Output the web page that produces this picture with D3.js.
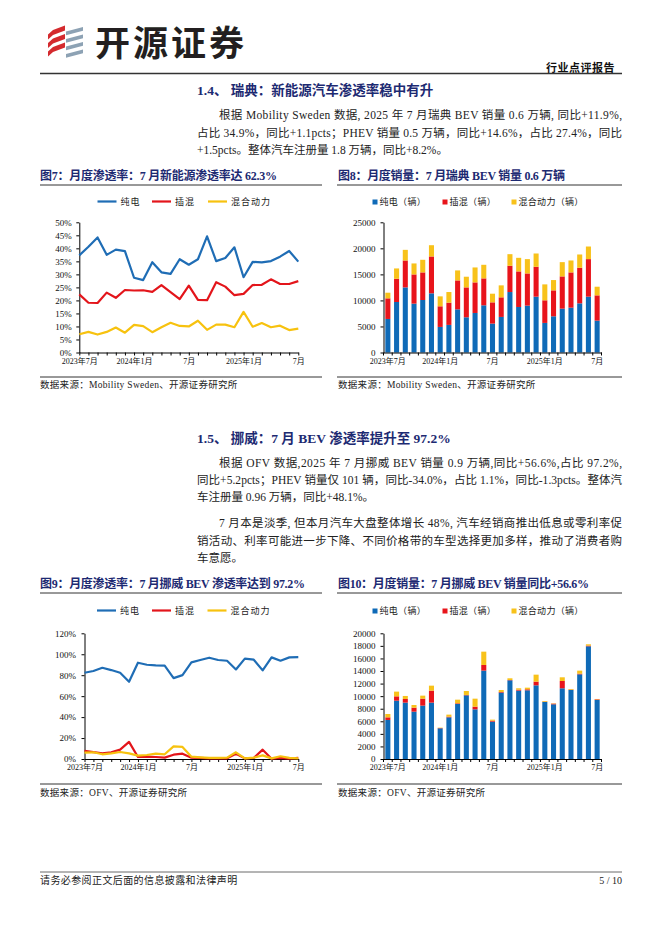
<!DOCTYPE html>
<html><head><meta charset="utf-8">
<script src="https://cdn.jsdelivr.net/npm/d3@7"></script>
<style>body{margin:0;background:#fff}svg{display:block}</style>
</head><body>
<svg id="page" width="662" height="936"></svg>
<script>
// ---------- DATA ----------
const months = ["2023-07","2023-08","2023-09","2023-10","2023-11","2023-12","2024-01","2024-02","2024-03","2024-04","2024-05","2024-06","2024-07","2024-08","2024-09","2024-10","2024-11","2024-12","2025-01","2025-02","2025-03","2025-04","2025-05","2025-06","2025-07"];
const xLabelMonths = ["2023-07","2024-01","2024-07","2025-01","2025-07"];
const xLabelTexts = ["2023年7月","2024年1月","7月","2025年1月","7月"];
const seriesNames = ["纯电","插混","混合动力"];
const barLegendNames = ["纯电（辆）","插混（辆）","混合动力（辆）"];

// Sweden share (%)
const seBEVShare  = [37.3,40.6,44.2,37.5,39.5,38.9,28.7,27.8,34.7,30.8,30.2,35.8,33.7,35.8,44.6,35.1,36.3,40.4,28.9,34.8,34.6,35.1,36.8,39.0,34.9];
const sePHEVShare = [22.3,19.1,19.0,23.0,21.0,24.0,23.8,23.9,23.3,25.9,23.2,20.5,25.7,20.2,20.1,27.0,25.3,22.0,22.5,25.9,26.0,28.1,26.3,26.3,27.4];
const seHEVShare  = [7.0,7.9,6.9,7.9,9.6,7.6,10.6,10.1,7.8,9.7,11.4,10.2,10.0,12.2,8.7,10.7,10.7,9.7,15.6,9.9,11.3,9.7,10.3,8.6,9.2];
// Sweden sales (vehicles)
const seBEV  = [6440,9700,12500,9380,10080,11360,4910,5300,8290,6760,7590,9060,5550,6830,11610,8740,9000,10720,5680,6950,8420,8610,9440,10720,6120];
const sePHEV = [3960,4460,5170,5610,5300,7080,3960,4270,5550,5740,5870,5170,4080,3760,5040,6830,6180,5740,4340,4980,6190,6770,6830,7210,4850];
const seHEV  = [1080,1980,2040,2110,2420,2160,1910,2040,1920,2050,2870,2610,1660,2300,2230,2610,2750,2550,3060,1980,2740,2290,2550,2420,1660];
// Norway share (%)
const noBEVShare  = [82.3,84.0,87.1,84.9,82.3,73.7,91.9,90.0,89.4,89.1,77.2,80.1,92.2,94.5,96.7,94.5,93.8,85.5,95.8,94.8,84.6,97.0,93.8,97.0,97.2];
const noPHEVShare = [7.7,6.5,5.5,6.4,8.9,16.3,1.9,2.2,1.9,1.3,4.1,5.1,1.3,1.0,0.6,0.6,0.6,5.1,0.6,1.0,8.9,0.3,1.0,0.3,1.1];
const noHEVShare  = [6.1,6.4,4.5,5.4,6.7,5.4,3.2,3.8,5.1,4.5,12.1,11.5,2.2,1.6,1.0,1.0,1.3,6.4,0.6,1.3,3.5,0.6,2.6,1.0,0.6];
// Norway sales (vehicles)
const noBEV  = [6210,9280,8970,7530,8490,8970,4880,6630,8750,10130,7900,14060,5940,10560,12520,10880,10930,11720,9070,8700,11250,10980,13470,17930,9390];
const noPHEV = [420,690,580,640,1110,1910,50,110,110,60,430,900,160,100,50,150,160,590,50,110,1160,50,110,110,101];
const noHEV  = [530,750,480,420,480,790,60,320,580,630,1270,2120,160,320,270,220,260,1110,110,50,590,110,480,210,60];

const shareTicks1 = [0,5,10,15,20,25,30,35,40,45,50];
const shareTicks2 = [0,20,40,60,80,100,120];
const salesTicks1 = [0,5000,10000,15000,20000,25000];
const salesTicks2 = [0,2000,4000,6000,8000,10000,12000,14000,16000,18000,20000];

// ---------- STYLE ----------
const colors = ["#1f6db5","#e3151b","#f7c20f"];
const barColors = ["#0f6ab7","#e8141b","#f8c21a"];
const navy = "#1d2a72";
const SERIF = "'Liberation Serif','Noto Sans CJK SC',serif";
const svg = d3.select("#page");
svg.append("rect").attr("width",662).attr("height",936).attr("fill","#fff");

function text(x,y,s,o={}) {
  const t = svg.append("text").attr("x",x).attr("y",y).text(s)
    .attr("font-family",o.family||SERIF).attr("font-size",o.size||11.5)
    .attr("fill",o.fill||"#222").attr("dominant-baseline","central");
  if (o.bold) t.attr("font-weight","bold");
  if (o.anchor) t.attr("text-anchor",o.anchor);
  if (o.ls) t.attr("letter-spacing",o.ls);
  if (o.len) t.attr("textLength",o.len).attr("lengthAdjust","spacing");
  return t;
}
function hline(x0,x1,y,w,c){svg.append("line").attr("x1",x0).attr("x2",x1).attr("y1",y).attr("y2",y).attr("stroke",c||"#222").attr("stroke-width",w||1);}

// ---------- HEADER ----------
const logo = svg.append("g");
[[48,30],[48,38.5],[48,47]].forEach(([x,y])=>{
  logo.append("path").attr("d",`M${x+5},${y} L${x+17},${y-4.5} L${x+17},${y+0.5} L${x+5},${y+5} Z`).attr("fill","#d42a2e");
  logo.append("path").attr("d",`M${x},${y+4.5} L${x+5},${y} L${x+5},${y+5} L${x},${y+9.5} Z`).attr("fill","#d42a2e");
});
[[66,27],[66,34.5],[66,42],[66,49.5]].forEach(([x,y])=>{
  logo.append("path").attr("d",`M${x},${y+4.5} L${x+17},${y} L${x+17},${y+3.8} L${x},${y+8.3} Z`).attr("fill","#8da2b4");
});
text(95,40,"开源证券",{family:"'Noto Sans CJK SC',sans-serif",size:35,bold:true,fill:"#231f20",ls:3});
text(615,68,"行业点评报告",{size:11,bold:true,anchor:"end",fill:"#111",ls:0.5});
hline(40,622,73.5,1.5,"#333");

// ---------- SECTION 1.4 ----------
text(197,90,"1.4、 瑞典：新能源汽车渗透率稳中有升",{size:13.5,bold:true,fill:navy});
text(219,115,"根据 Mobility Sweden 数据, 2025 年 7 月瑞典 BEV 销量 0.6 万辆, 同比+11.9%,",{len:622-219});
text(197,132.5,"占比 34.9%，同比+1.1pcts；PHEV 销量 0.5 万辆，同比+14.6%，占比 27.4%，同比",{len:622-197});
text(197,150,"+1.5pcts。整体汽车注册量 1.8 万辆，同比+8.2%。");

text(40,176,"图7：月度渗透率：7 月新能源渗透率达 62.3%",{size:12,bold:true,fill:navy,len:237});
text(338,176,"图8：月度销量：7 月瑞典 BEV 销量 0.6 万辆",{size:12,bold:true,fill:navy,len:227});
hline(40,322,185,1,"#333"); hline(337,622,185,1,"#333");

// ---------- SECTION 1.5 ----------
text(197,438,"1.5、 挪威：7 月 BEV 渗透率提升至 97.2%",{size:13.5,bold:true,fill:navy});
text(219,463,"根据 OFV 数据,2025 年 7 月挪威 BEV 销量 0.9 万辆,同比+56.6%,占比 97.2%,",{len:622-219});
text(197,480,"同比+5.2pcts；PHEV 销量仅 101 辆，同比-34.0%，占比 1.1%，同比-1.3pcts。整体汽",{len:622-197});
text(197,497,"车注册量 0.96 万辆，同比+48.1%。");
text(219,523,"7 月本是淡季, 但本月汽车大盘整体增长 48%, 汽车经销商推出低息或零利率促",{len:622-219});
text(197,540.5,"销活动、利率可能进一步下降、不同价格带的车型选择更加多样，推动了消费者购",{len:622-197});
text(197,558,"车意愿。");

text(40,584,"图9：月度渗透率：7 月挪威 BEV 渗透率达到 97.2%",{size:12,bold:true,fill:navy,len:265});
text(338,584,"图10：月度销量：7 月挪威 BEV 销量同比+56.6%",{size:12,bold:true,fill:navy,len:251});
hline(40,322,593,1,"#333"); hline(337,622,593,1,"#333");

// ---------- CHART HELPERS ----------
const labelMap = new Map(xLabelMonths.map((m,i)=>[m,xLabelTexts[i]]));

function styleAxis(g){
  g.attr("font-family",SERIF).attr("font-size",9);
  g.selectAll("path,line").attr("stroke","#000").attr("stroke-width",1);
  g.selectAll("text").attr("fill","#111");
}

function lineChart(cfg){
  const x = d3.scalePoint().domain(months).range([cfg.x0,cfg.x1]);
  const y = d3.scaleLinear().domain([0,cfg.max]).range([cfg.yBot,cfg.yTop]);
  const g = svg.append("g");
  g.append("g").attr("transform",`translate(${cfg.x0},0)`)
    .call(d3.axisLeft(y).tickValues(cfg.ticks).tickSize(3).tickSizeOuter(0).tickPadding(cfg.pad).tickFormat(d=>d+"%"))
    .call(styleAxis);
  const xa = g.append("g").attr("transform",`translate(0,${cfg.yBot})`)
    .call(d3.axisBottom(x).tickSize(3).tickSizeOuter(0).tickPadding(2.5).tickFormat(d=>labelMap.get(d)||""))
    .call(styleAxis);
  xa.selectAll("text").attr("font-size",8);
  const line = d3.line().x((d,i)=>x(months[i])).y(d=>y(d));
  cfg.series.forEach((s,k)=>{
    g.append("path").datum(s).attr("d",line).attr("fill","none")
      .attr("stroke",colors[k]).attr("stroke-width",2.2).attr("stroke-linejoin","round");
  });
  cfg.legend.forEach((lx,k)=>{
    g.append("line").attr("x1",lx).attr("x2",lx+19).attr("y1",cfg.legendY).attr("y2",cfg.legendY)
      .attr("stroke",colors[k]).attr("stroke-width",2.2);
    g.append("text").attr("x",lx+23).attr("y",cfg.legendY).attr("dominant-baseline","central")
      .attr("font-family",SERIF).attr("font-size",9).attr("letter-spacing",1).attr("fill","#222").text(seriesNames[k]);
  });
}

function barChart(cfg){
  const x = d3.scaleBand().domain(months).range([cfg.x0,cfg.x1]).paddingInner(0.42).paddingOuter(0.21);
  const y = d3.scaleLinear().domain([0,cfg.max]).range([cfg.yBot,cfg.yTop]);
  const g = svg.append("g");
  const rows = months.map((m,i)=>({m, a:cfg.series[0][i], b:cfg.series[1][i], c:cfg.series[2][i]}));
  const stack = d3.stack().keys(["a","b","c"])(rows);
  stack.forEach((layer,k)=>{
    g.append("g").selectAll("rect").data(layer).join("rect")
      .attr("x",d=>x(d.data.m)).attr("width",x.bandwidth())
      .attr("y",d=>y(d[1])).attr("height",d=>y(d[0])-y(d[1]))
      .attr("fill",barColors[k]);
  });
  g.append("g").attr("transform",`translate(${cfg.x0},0)`)
    .call(d3.axisLeft(y).tickValues(cfg.ticks).tickSize(3).tickSizeOuter(0).tickPadding(cfg.pad).tickFormat(d=>d))
    .call(styleAxis);
  const xa = g.append("g").attr("transform",`translate(0,${cfg.yBot})`)
    .call(d3.axisBottom(x).tickSize(0).tickSizeOuter(0).tickPadding(5.5).tickFormat(d=>labelMap.get(d)||""))
    .call(styleAxis);
  xa.selectAll("text").attr("font-size",8);
  const bounds = d3.range(months.length+1).map(i=>cfg.x0 + i*x.step());
  g.append("g").selectAll("line").data(bounds).join("line")
    .attr("x1",d=>d).attr("x2",d=>d).attr("y1",cfg.yBot).attr("y2",cfg.yBot+3)
    .attr("stroke","#000").attr("stroke-width",1);
  cfg.legend.forEach((lx,k)=>{
    g.append("rect").attr("x",lx).attr("y",cfg.legendY-2.5).attr("width",5).attr("height",5).attr("fill",barColors[k]);
    g.append("text").attr("x",lx+7).attr("y",cfg.legendY).attr("dominant-baseline","central")
      .attr("font-family",SERIF).attr("font-size",9).attr("letter-spacing",0.3).attr("fill","#222").text(barLegendNames[k]);
  });
}

// ---------- CHARTS ----------
lineChart({x0:79.3,x1:298.3,yTop:222.3,yBot:352.5,max:50,ticks:shareTicks1,pad:4.5,
  series:[seBEVShare,sePHEVShare,seHEVShare],legendY:201.5,legend:[97.5,152,208]});
barChart({x0:383.5,x1:601.5,yTop:222.3,yBot:352.5,max:25000,ticks:salesTicks1,pad:5,
  series:[seBEV,sePHEV,seHEV],legendY:202,legend:[372.5,442.5,511.5]});
lineChart({x0:84.5,x1:298.3,yTop:633.3,yBot:759,max:120,ticks:shareTicks2,pad:5.5,
  series:[noBEVShare,noPHEVShare,noHEVShare],legendY:610.5,legend:[97,152,207.5]});
barChart({x0:383.5,x1:601.5,yTop:633.3,yBot:759,max:20000,ticks:salesTicks2,pad:5,
  series:[noBEV,noPHEV,noHEV],legendY:611,legend:[372.5,442.5,511.5]});

// ---------- SOURCES ----------
hline(40,322,377,1,"#333"); hline(337,622,377,1,"#333");
text(40,385,"数据来源：Mobility Sweden、开源证券研究所",{size:9.5,ls:0.3});
text(338,385,"数据来源：Mobility Sweden、开源证券研究所",{size:9.5,ls:0.3});
hline(40,322,784,1,"#333"); hline(337,622,784,1,"#333");
text(40,793,"数据来源：OFV、开源证券研究所",{size:9.5,ls:0.3});
text(338,793,"数据来源：OFV、开源证券研究所",{size:9.5,ls:0.3});

// ---------- FOOTER ----------
hline(40,622,872,0.8,"#444");
text(40,880.5,"请务必参阅正文后面的信息披露和法律声明",{size:10,ls:0.4});
text(622,880.5,"5 / 10",{size:10,anchor:"end"});
</script>
</body></html>
